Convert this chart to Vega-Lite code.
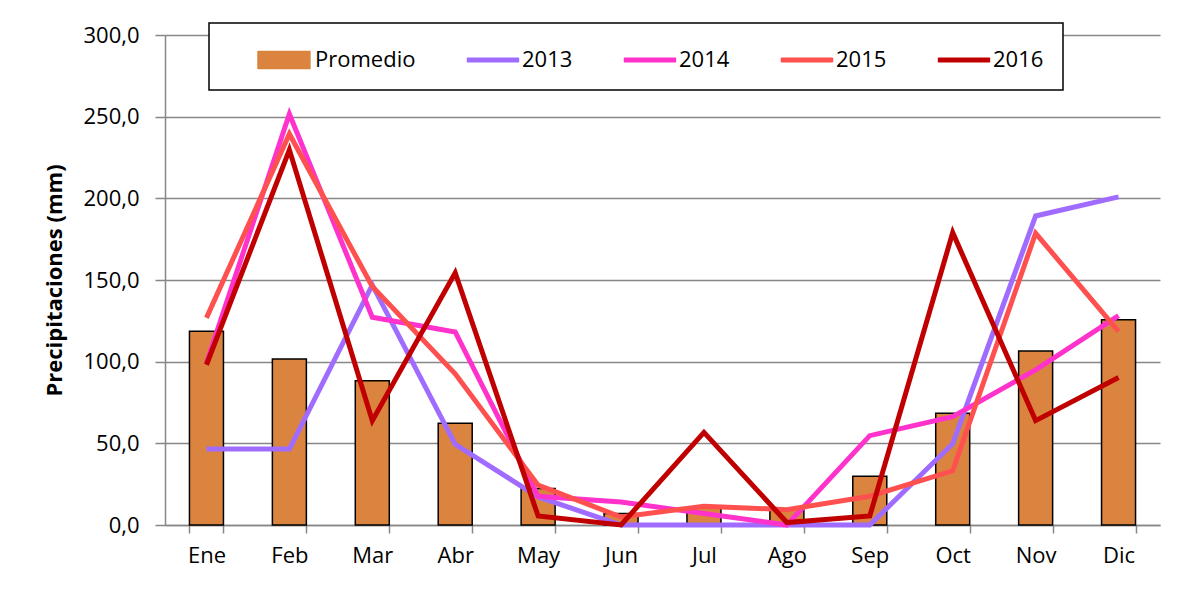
{
  "$schema": "https://vega.github.io/schema/vega-lite/v6.json",
  "width": 995,
  "height": 490,
  "autosize": {"type": "none"},
  "padding": {"left": 165, "top": 35, "right": 35, "bottom": 64},
  "background": "white",
  "config": {
    "locale": {"number": {"decimal": ",", "thousands": ".", "grouping": [3], "currency": ["", " €"]}},
    "font": "Open Sans",
    "view": {"stroke": null},
    "legend": {"strokeWidth": 1.5}
  },
  "data": {
    "values": [
      {"mes": "Ene", "serie": "Promedio", "valor": 118.6},
      {"mes": "Feb", "serie": "Promedio", "valor": 101.6},
      {"mes": "Mar", "serie": "Promedio", "valor": 88.3},
      {"mes": "Abr", "serie": "Promedio", "valor": 62.3},
      {"mes": "May", "serie": "Promedio", "valor": 22.4},
      {"mes": "Jun", "serie": "Promedio", "valor": 7.0},
      {"mes": "Jul", "serie": "Promedio", "valor": 11.1},
      {"mes": "Ago", "serie": "Promedio", "valor": 10.0},
      {"mes": "Sep", "serie": "Promedio", "valor": 29.9},
      {"mes": "Oct", "serie": "Promedio", "valor": 68.4},
      {"mes": "Nov", "serie": "Promedio", "valor": 106.5},
      {"mes": "Dic", "serie": "Promedio", "valor": 125.7},
      {"mes": "Ene", "serie": "2013", "valor": 46.5},
      {"mes": "Feb", "serie": "2013", "valor": 46.5},
      {"mes": "Mar", "serie": "2013", "valor": 147.0},
      {"mes": "Abr", "serie": "2013", "valor": 49.4},
      {"mes": "May", "serie": "2013", "valor": 17.2},
      {"mes": "Jun", "serie": "2013", "valor": 0.0},
      {"mes": "Jul", "serie": "2013", "valor": 0.0},
      {"mes": "Ago", "serie": "2013", "valor": 0.0},
      {"mes": "Sep", "serie": "2013", "valor": 0.0},
      {"mes": "Oct", "serie": "2013", "valor": 49.8},
      {"mes": "Nov", "serie": "2013", "valor": 189.2},
      {"mes": "Dic", "serie": "2013", "valor": 200.9},
      {"mes": "Ene", "serie": "2014", "valor": 99.3},
      {"mes": "Feb", "serie": "2014", "valor": 251.6},
      {"mes": "Mar", "serie": "2014", "valor": 127.2},
      {"mes": "Abr", "serie": "2014", "valor": 118.2},
      {"mes": "May", "serie": "2014", "valor": 17.6},
      {"mes": "Jun", "serie": "2014", "valor": 14.1},
      {"mes": "Jul", "serie": "2014", "valor": 7.0},
      {"mes": "Ago", "serie": "2014", "valor": 0.0},
      {"mes": "Sep", "serie": "2014", "valor": 54.7},
      {"mes": "Oct", "serie": "2014", "valor": 66.3},
      {"mes": "Nov", "serie": "2014", "valor": 95.0},
      {"mes": "Dic", "serie": "2014", "valor": 128.2},
      {"mes": "Ene", "serie": "2015", "valor": 126.8},
      {"mes": "Feb", "serie": "2015", "valor": 239.4},
      {"mes": "Mar", "serie": "2015", "valor": 146.0},
      {"mes": "Abr", "serie": "2015", "valor": 92.6},
      {"mes": "May", "serie": "2015", "valor": 24.4},
      {"mes": "Jun", "serie": "2015", "valor": 4.9},
      {"mes": "Jul", "serie": "2015", "valor": 11.5},
      {"mes": "Ago", "serie": "2015", "valor": 9.4},
      {"mes": "Sep", "serie": "2015", "valor": 17.6},
      {"mes": "Oct", "serie": "2015", "valor": 33.2},
      {"mes": "Nov", "serie": "2015", "valor": 178.6},
      {"mes": "Dic", "serie": "2015", "valor": 118.6},
      {"mes": "Ene", "serie": "2016", "valor": 98.1},
      {"mes": "Feb", "serie": "2016", "valor": 229.7},
      {"mes": "Mar", "serie": "2016", "valor": 63.9},
      {"mes": "Abr", "serie": "2016", "valor": 154.4},
      {"mes": "May", "serie": "2016", "valor": 5.5},
      {"mes": "Jun", "serie": "2016", "valor": 0.0},
      {"mes": "Jul", "serie": "2016", "valor": 56.7},
      {"mes": "Ago", "serie": "2016", "valor": 1.5},
      {"mes": "Sep", "serie": "2016", "valor": 5.5},
      {"mes": "Oct", "serie": "2016", "valor": 179.0},
      {"mes": "Nov", "serie": "2016", "valor": 63.9},
      {"mes": "Dic", "serie": "2016", "valor": 90.3}
    ]
  },
  "encoding": {
    "x": {
      "field": "mes",
      "type": "nominal",
      "sort": ["Ene", "Feb", "Mar", "Abr", "May", "Jun", "Jul", "Ago", "Sep", "Oct", "Nov", "Dic"],
      "scale": {"type": "band", "paddingInner": 0.59, "paddingOuter": 0.295},
      "axis": {
        "title": null,
        "labelAngle": 0,
        "labelFontSize": 22,
        "labelColor": "black",
        "labelPadding": 12,
        "tickBand": "extent",
        "tickSize": 8,
        "tickColor": "#878787",
        "tickWidth": 1.5,
        "domainColor": "#878787",
        "domainWidth": 1.5,
        "grid": false
      }
    },
    "y": {
      "field": "valor",
      "type": "quantitative",
      "scale": {"domain": [0, 300], "nice": false},
      "axis": {
        "title": "Precipitaciones (mm)",
        "titleFontSize": 22,
        "titleFontWeight": "bold",
        "titleColor": "black",
        "titlePadding": 16,
        "format": ".1f",
        "values": [0, 50, 100, 150, 200, 250, 300],
        "labelFontSize": 22,
        "labelColor": "black",
        "labelPadding": 16,
        "tickSize": 10,
        "tickColor": "#878787",
        "tickWidth": 1.5,
        "domainColor": "#878787",
        "domainWidth": 1.5,
        "grid": true,
        "gridColor": "#878787",
        "gridWidth": 1.5
      }
    },
    "color": {
      "field": "serie",
      "type": "nominal",
      "scale": {
        "domain": ["Promedio", "2013", "2014", "2015", "2016"],
        "range": ["#DB843F", "#A06CFF", "#FF33CC", "#FF5050", "#C00000"]
      },
      "legend": {
        "title": null,
        "orient": "none",
        "legendX": 44,
        "legendY": -12,
        "direction": "horizontal",
        "columns": 5,
        "padding": 19,
        "strokeColor": "black",
        "fillColor": "white",
        "symbolSize": 1156,
        "labelOffset": 51,
        "columnPadding": 19,
        "labelFontSize": 22,
        "labelColor": "black",
        "labelFont": "Open Sans",
        "encoding": {
          "symbols": {
            "shape": {"value": {"expr": "datum.value === 'Promedio' ? 'M0.706,-0.5H3.76V0.5H0.706Z' : 'M0.853,-0.1H3.85V0.1H0.853Z'"}},
            "fill": {"value": {"expr": "datum.value === 'Promedio' ? '#DB843F' : datum.value === '2013' ? '#A06CFF' : datum.value === '2014' ? '#FF33CC' : datum.value === '2015' ? '#FF5050' : '#C00000'"}},
            "stroke": {"value": {"expr": "datum.value === 'Promedio' ? 'black' : datum.value === '2013' ? '#A06CFF' : datum.value === '2014' ? '#FF33CC' : datum.value === '2015' ? '#FF5050' : '#C00000'"}},
            "strokeWidth": {"value": 1.5},
            "strokeJoin": {"value": "round"},
            "opacity": {"value": 1}
          }
        }
      }
    }
  },
  "layer": [
    {
      "transform": [{"filter": "datum.serie === 'Promedio'"}],
      "mark": {"type": "bar", "stroke": "black", "strokeWidth": 1.5}
    },
    {
      "transform": [{"filter": "datum.serie !== 'Promedio'"}],
      "mark": {"type": "line", "strokeWidth": 5}
    }
  ]
}
